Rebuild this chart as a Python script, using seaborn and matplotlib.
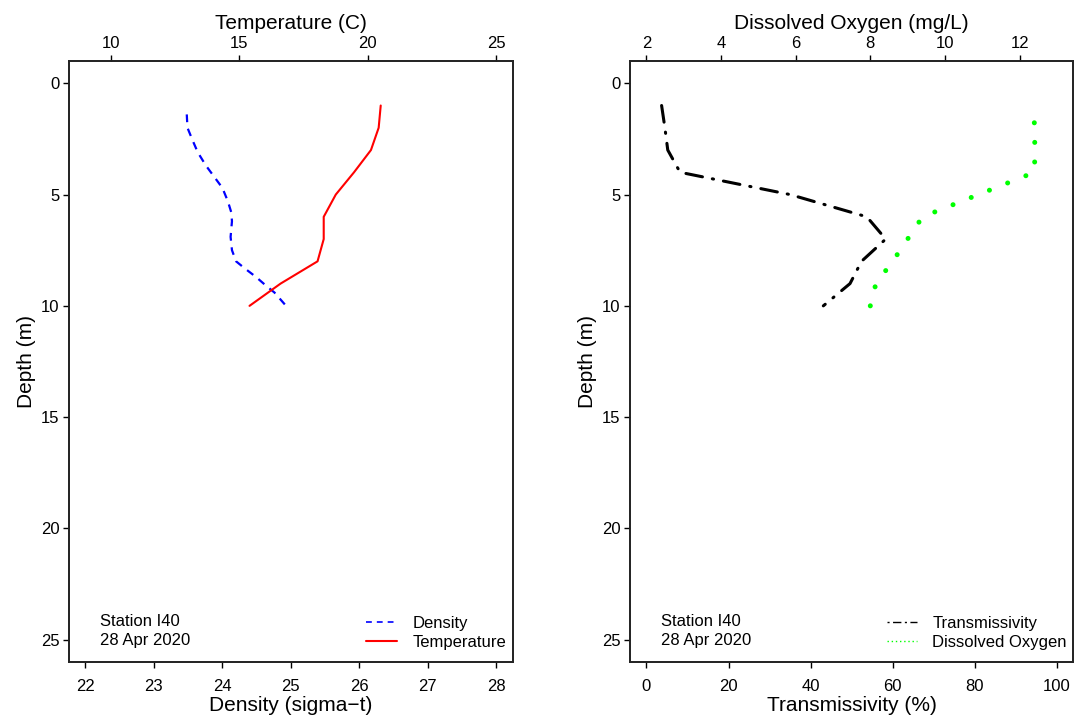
import numpy as np
import pandas as pd
import seaborn as sns
import matplotlib
matplotlib.use("Agg")
import matplotlib.pyplot as plt
from matplotlib.lines import Line2D

# CTD profile, station I40, 28 Apr 2020
dens_depth = [1.4, 2.0, 2.6, 3.1, 3.7, 4.2, 4.7, 5.3, 5.8, 6.2, 6.9, 7.5, 8.0, 8.3, 8.7, 9.1, 9.4, 10.0]
density = [23.48, 23.49, 23.57, 23.64, 23.76, 23.88, 24.00, 24.08, 24.13, 24.14, 24.12, 24.14,
           24.20, 24.32, 24.49, 24.64, 24.76, 24.93]

temp_depth = [1, 2, 3, 4, 5, 6, 7, 8, 9, 10]
temperature = [20.50, 20.42, 20.12, 19.46, 18.75, 18.28, 18.28, 18.04, 16.60, 15.39]

trans_depth = [1, 2, 3, 4, 5, 6, 7, 8, 9, 10]
transmissivity = [3.7, 4.5, 5.2, 8.2, 35.0, 53.7, 58.3, 52.4, 49.6, 43.1]

do_depth = [1, 2, 3, 4, 5, 6, 7, 8, 9, 10]
dissolved_oxygen = [12.38, 12.40, 12.41, 12.40, 10.90, 9.40, 9.00, 8.60, 8.15, 8.00]

station = "Station I40"
date = "28 Apr 2020"

dens_df = pd.DataFrame({"depth": dens_depth, "density": density})
temp_df = pd.DataFrame({"depth": temp_depth, "temp": temperature})
trans_df = pd.DataFrame({"depth": trans_depth, "trans": transmissivity})
# the dotted DO trace is drawn from the bottom up
do_df = pd.DataFrame({"depth": do_depth, "do": dissolved_oxygen}).iloc[::-1]

sns.set_style("white")
plt.rcParams['font.family'] = ['Liberation Sans', 'DejaVu Sans']
plt.rcParams['text.color'] = 'black'
plt.rcParams['axes.labelcolor'] = 'black'
plt.rcParams['xtick.color'] = 'black'
plt.rcParams['ytick.color'] = 'black'
plt.rcParams['axes.linewidth'] = 1.2
plt.rcParams['xtick.major.width'] = 1.0
plt.rcParams['ytick.major.width'] = 1.0
plt.rcParams['xtick.major.size'] = 4
plt.rcParams['ytick.major.size'] = 4

TICK = 12
LAB = 15

fig = plt.figure(figsize=(10.79, 7.27), dpi=100)
ax1 = fig.add_axes([69/1079, 1 - 662/727, 443.7/1079, 601/727])
ax2 = fig.add_axes([630/1079, 1 - 662/727, 443.3/1079, 601/727])


def style_axes(ax, xticks, xlim, xlabel):
    ax.set_ylim(26, -1)
    ax.set_yticks([0, 5, 10, 15, 20, 25])
    ax.set_xlim(*xlim)
    ax.set_xticks(xticks)
    ax.set_xlabel(xlabel, fontsize=LAB, labelpad=2)
    ax.set_ylabel("Depth (m)", fontsize=LAB, labelpad=3)
    ax.tick_params(axis='both', labelsize=TICK, direction='out', colors='black')
    ax.tick_params(axis='x', bottom=True, pad=8)
    ax.tick_params(axis='y', left=True, pad=3)
    for s in ax.spines.values():
        s.set_color('black')
        s.set_visible(True)


def style_top(axt, xticks, xlim, xlabel):
    axt.set_xlim(*xlim)
    axt.set_xticks(xticks)
    axt.set_xlabel(xlabel, fontsize=LAB, labelpad=5)
    axt.tick_params(axis='x', top=True, labelsize=TICK, direction='out', pad=3, colors='black')


# ---- left panel: density (bottom) and temperature (top)
sns.lineplot(data=dens_df, x="density", y="depth", sort=False, estimator=None, orient="y",
             color="blue", lw=1.6, ax=ax1)
ax1.lines[-1].set_linestyle((0, (3.5, 3)))
style_axes(ax1, [22, 23, 24, 25, 26, 27, 28], (21.76, 28.24), "Density (sigma\u2212t)")

ax1t = ax1.twiny()
sns.lineplot(data=temp_df, x="temp", y="depth", sort=False, estimator=None, orient="y",
             color="red", lw=1.5, ax=ax1t)
style_top(ax1t, [10, 15, 20, 25], (8.36, 25.64), "Temperature (C)")
ax1t.set_ylim(26, -1)

h1 = [Line2D([], [], color="blue", lw=1.2, ls=(0, (3.5, 3))),
      Line2D([], [], color="red", lw=1.5)]
ax1t.legend(h1, ["Density", "Temperature"], loc="lower right", bbox_to_anchor=(0.985, 0.02),
            frameon=False, fontsize=TICK, handlelength=1.9, handletextpad=0.9,
            labelspacing=0.25, borderpad=0, borderaxespad=0)

# ---- right panel: transmissivity (bottom) and dissolved oxygen (top)
sns.lineplot(data=trans_df, x="trans", y="depth", sort=False, estimator=None, orient="y",
             color="black", lw=2.2, ax=ax2)
ln = ax2.lines[-1]
ln.set_linestyle((0, (5.5, 3.3, 0.4, 3.3)))
ln.set_dash_capstyle("round")
style_axes(ax2, [0, 20, 40, 60, 80, 100], (-4, 104), "Transmissivity (%)")

ax2t = ax2.twiny()
sns.lineplot(data=do_df, x="do", y="depth", sort=False, estimator=None, orient="y",
             color="#00ff00", lw=3.6, ax=ax2t)
ln = ax2t.lines[-1]
ln.set_linestyle((0, (0.01, 3.91)))
ln.set_dash_capstyle("round")
style_top(ax2t, [2, 4, 6, 8, 10, 12], (1.56, 13.44), "Dissolved Oxygen (mg/L)")
ax2t.set_ylim(26, -1)

h2 = [Line2D([], [], color="black", lw=1.0, ls=(0, (1.5, 2.5, 6, 2.5))),
      Line2D([], [], color="#00ff00", lw=1.0, ls=(0, (1, 2)))]
ax2t.legend(h2, ["Transmissivity", "Dissolved Oxygen"], loc="lower right",
            bbox_to_anchor=(0.985, 0.02), frameon=False, fontsize=TICK, handlelength=1.8,
            handletextpad=0.9, labelspacing=0.25, borderpad=0, borderaxespad=0)

for ax in (ax1, ax2):
    ax.text(0.07, 0.068, station, transform=ax.transAxes, fontsize=TICK, va="center", ha="left")
    ax.text(0.07, 0.035, date, transform=ax.transAxes, fontsize=TICK, va="center", ha="left")

fig.savefig("out.png", dpi=100)
